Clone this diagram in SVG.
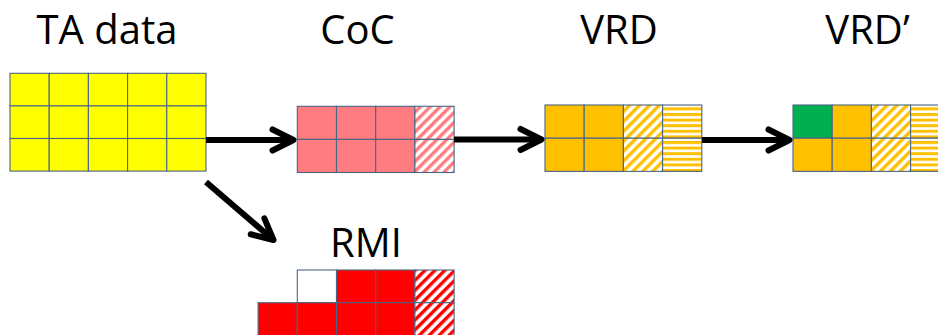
<svg xmlns="http://www.w3.org/2000/svg" width="938" height="335" viewBox="0 0 938 335">
  <defs>
    <style>
      .lbl { font-family: "Open Sans", "Liberation Sans", sans-serif; font-size: 40px; fill: #000; text-anchor: middle; }
      .cell { stroke: #4A6585; stroke-width: 1.1; }
      .yel { fill: #FFFF00; }
      .pink { fill: #FF7C80; }
      .org { fill: #FFC000; }
      .red { fill: #FF0000; }
      .grn { fill: #00B050; }
      .wht { fill: #FFFFFF; }
      .hpink { fill: url(#diagPink); }
      .horg { fill: url(#diagOrange); }
      .hred { fill: url(#diagRed); }
      .horz { fill: url(#horzOrange); }
      .conn { stroke: #000; stroke-width: 6; fill: none; marker-end: url(#chev); }
    </style>
    <pattern id="diagPink" patternUnits="userSpaceOnUse" width="7" height="7" patternTransform="rotate(45)">
      <rect width="7" height="7" fill="#FFFFFF"/>
      <rect width="3.4" height="7" fill="#FF7C80"/>
    </pattern>
    <pattern id="diagOrange" patternUnits="userSpaceOnUse" width="7" height="7" patternTransform="rotate(45)">
      <rect width="7" height="7" fill="#FFFFFF"/>
      <rect width="3.4" height="7" fill="#FFC000"/>
    </pattern>
    <pattern id="diagRed" patternUnits="userSpaceOnUse" width="7" height="7" patternTransform="rotate(45)">
      <rect width="7" height="7" fill="#FFFFFF"/>
      <rect width="3.4" height="7" fill="#FF0000"/>
    </pattern>
    <pattern id="horzOrange" patternUnits="userSpaceOnUse" width="8" height="5.6" y="1">
      <rect width="8" height="5.6" fill="#FFFFFF"/>
      <rect width="8" height="3" fill="#FFC000"/>
    </pattern>
    <marker id="chev" markerUnits="userSpaceOnUse" viewBox="-28 -16 34 32" refX="0" refY="0" markerWidth="34" markerHeight="32" orient="auto">
      <path d="M-21,-10.5 L0,0 L-21,10.5" fill="none" stroke="#000" stroke-width="6" stroke-linecap="round" stroke-linejoin="round"/>
    </marker>
  </defs>

  <!-- TA data: 5 x 3 yellow grid -->
  <g id="ta-data">
    <text class="lbl" x="107" y="43.5">TA data</text>
    <rect class="cell yel" x="10" y="73.3" width="39.2" height="32.6"/>
    <rect class="cell yel" x="49.2" y="73.3" width="39.2" height="32.6"/>
    <rect class="cell yel" x="88.4" y="73.3" width="39.2" height="32.6"/>
    <rect class="cell yel" x="127.6" y="73.3" width="39.2" height="32.6"/>
    <rect class="cell yel" x="166.8" y="73.3" width="39.2" height="32.6"/>
    <rect class="cell yel" x="10" y="105.9" width="39.2" height="32.6"/>
    <rect class="cell yel" x="49.2" y="105.9" width="39.2" height="32.6"/>
    <rect class="cell yel" x="88.4" y="105.9" width="39.2" height="32.6"/>
    <rect class="cell yel" x="127.6" y="105.9" width="39.2" height="32.6"/>
    <rect class="cell yel" x="166.8" y="105.9" width="39.2" height="32.6"/>
    <rect class="cell yel" x="10" y="138.5" width="39.2" height="32.6"/>
    <rect class="cell yel" x="49.2" y="138.5" width="39.2" height="32.6"/>
    <rect class="cell yel" x="88.4" y="138.5" width="39.2" height="32.6"/>
    <rect class="cell yel" x="127.6" y="138.5" width="39.2" height="32.6"/>
    <rect class="cell yel" x="166.8" y="138.5" width="39.2" height="32.6"/>
  </g>

  <!-- CoC: 3 pink columns and one hatched column -->
  <g id="coc">
    <text class="lbl" x="357.5" y="43.5">CoC</text>
    <rect class="cell pink" x="297.3" y="106.3" width="39.2" height="33.1"/>
    <rect class="cell pink" x="336.5" y="106.3" width="39.2" height="33.1"/>
    <rect class="cell pink" x="375.7" y="106.3" width="39.2" height="33.1"/>
    <rect class="cell hpink" x="414.9" y="106.3" width="39.2" height="33.1"/>
    <rect class="cell pink" x="297.3" y="139.4" width="39.2" height="33.1"/>
    <rect class="cell pink" x="336.5" y="139.4" width="39.2" height="33.1"/>
    <rect class="cell pink" x="375.7" y="139.4" width="39.2" height="33.1"/>
    <rect class="cell hpink" x="414.9" y="139.4" width="39.2" height="33.1"/>
  </g>

  <!-- VRD: 2 orange columns, diagonal hatch, horizontal stripes -->
  <g id="vrd">
    <text class="lbl" x="619" y="43.5">VRD</text>
    <rect class="cell org" x="545" y="105" width="39.2" height="33.2"/>
    <rect class="cell org" x="584.2" y="105" width="39.2" height="33.2"/>
    <rect class="cell horg" x="623.4" y="105" width="39.2" height="33.2"/>
    <rect class="cell horz" x="662.6" y="105" width="39.2" height="33.2"/>
    <rect class="cell org" x="545" y="138.2" width="39.2" height="33.2"/>
    <rect class="cell org" x="584.2" y="138.2" width="39.2" height="33.2"/>
    <rect class="cell horg" x="623.4" y="138.2" width="39.2" height="33.2"/>
    <rect class="cell horz" x="662.6" y="138.2" width="39.2" height="33.2"/>
  </g>

  <!-- VRD': first cell updated (green) -->
  <g id="vrd-prime">
    <text class="lbl" x="867.5" y="43.5">VRD’</text>
    <rect class="cell grn" x="793" y="105" width="39.2" height="33.2"/>
    <rect class="cell org" x="832.2" y="105" width="39.2" height="33.2"/>
    <rect class="cell horg" x="871.4" y="105" width="39.2" height="33.2"/>
    <rect class="cell horz" x="910.6" y="105" width="39.2" height="33.2"/>
    <rect class="cell org" x="793" y="138.2" width="39.2" height="33.2"/>
    <rect class="cell org" x="832.2" y="138.2" width="39.2" height="33.2"/>
    <rect class="cell horg" x="871.4" y="138.2" width="39.2" height="33.2"/>
    <rect class="cell horz" x="910.6" y="138.2" width="39.2" height="33.2"/>
  </g>

  <!-- RMI: stepped red grid with hatched last column -->
  <g id="rmi">
    <text class="lbl" x="366" y="256.5">RMI</text>
    <rect class="cell wht" x="297.3" y="270" width="39.2" height="32.7"/>
    <rect class="cell red" x="336.5" y="270" width="39.2" height="32.7"/>
    <rect class="cell red" x="375.7" y="270" width="39.2" height="32.7"/>
    <rect class="cell hred" x="414.9" y="270" width="39.2" height="32.7"/>
    <rect class="cell red" x="258.1" y="302.7" width="39.2" height="33"/>
    <rect class="cell red" x="297.3" y="302.7" width="39.2" height="33"/>
    <rect class="cell red" x="336.5" y="302.7" width="39.2" height="33"/>
    <rect class="cell red" x="375.7" y="302.7" width="39.2" height="33"/>
    <rect class="cell hred" x="414.9" y="302.7" width="39.2" height="33"/>
  </g>

  <!-- connectors -->
  <g id="connectors">
    <line class="conn" x1="206" y1="140" x2="293.5" y2="140"/>
    <line class="conn" x1="454" y1="139.5" x2="541.5" y2="139.5"/>
    <line class="conn" x1="702" y1="140" x2="789.5" y2="140"/>
    <line class="conn" x1="206" y1="182" x2="273.5" y2="240"/>
  </g>
</svg>
